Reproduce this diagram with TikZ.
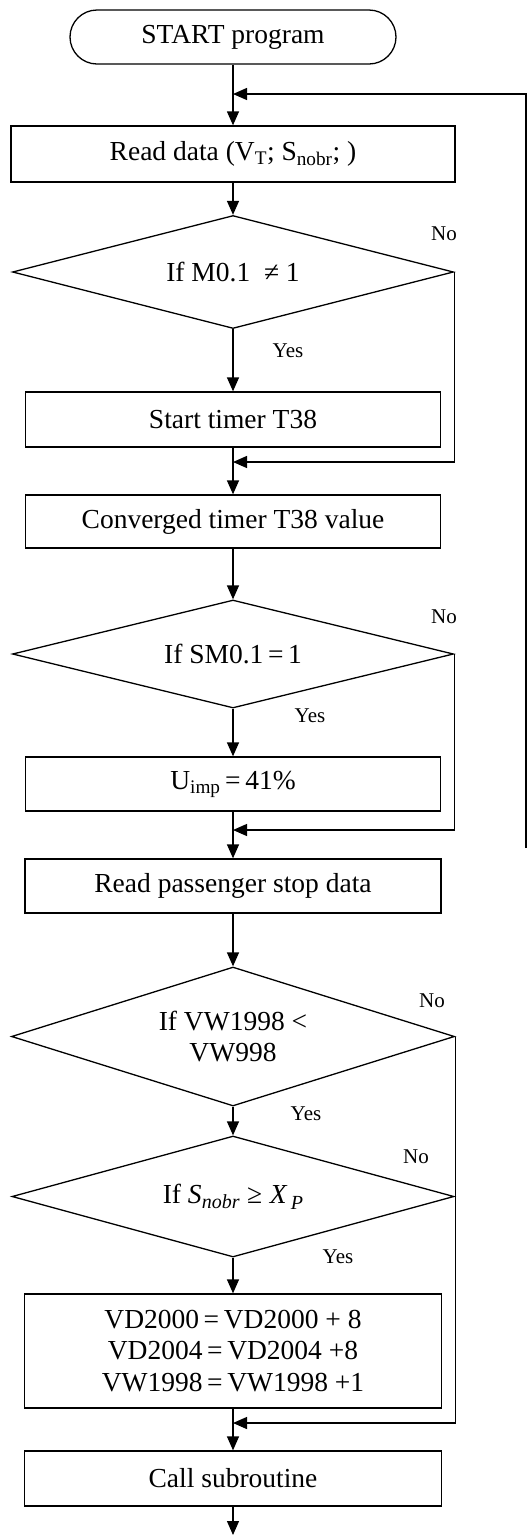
\documentclass[tikz,border=0pt]{standalone}
\usepackage{fontspec}
\setmainfont{Liberation Serif}
\usetikzlibrary{arrows.meta,shapes.geometric}

\begin{document}
\begin{tikzpicture}[x=1pt,y=-1pt,line width=1.3pt,
  every node/.style={font=\fontsize{27.5}{31.5}\selectfont},
  procbox/.style={draw,rectangle,inner sep=0pt,align=center},
  termbox/.style={draw,rectangle,rounded corners=27pt,inner sep=0pt},
  decbox/.style={draw,diamond,inner sep=0pt,align=center},
  lbl/.style={font=\fontsize{21}{24}\selectfont,inner sep=0pt},
  arr/.style={-{Triangle[length=14pt,width=12pt]}}]

\useasboundingbox (0,0) rectangle (531,1535);

% process steps
\node[termbox,minimum width=326pt,minimum height=54pt] (term) at (233,37) {START program};
\node[procbox,minimum width=444pt,minimum height=56pt] (read) at (233,154)
  {Read data (V\textsubscript{T}; S\textsubscript{nobr}; )};
\node[decbox,aspect=3.9,minimum width=441pt,minimum height=113pt] (d1) at (233,272)
  {If M0.1\enspace≠ 1};
\node[procbox,minimum width=415pt,minimum height=55pt] (start) at (233,419.5) {Start timer T38};
\node[procbox,minimum width=415pt,minimum height=53pt] (conv) at (233,521.5) {Converged timer T38 value};
\node[decbox,aspect=4.1,minimum width=441pt,minimum height=108pt] (d2) at (233,654)
  {If SM0.1\,=\,1};
\node[procbox,minimum width=415pt,minimum height=54pt] (uimp) at (233,784)
  {U\textsubscript{imp}\,=\,41\%};
\node[procbox,minimum width=416pt,minimum height=54pt] (rp) at (233,886) {Read passenger stop data};
\node[decbox,aspect=3.2,minimum width=443pt,minimum height=139pt] (d3) at (233,1036.5)
  {If VW1998 <\\VW998};
\node[decbox,aspect=3.65,minimum width=442pt,minimum height=121pt] (d4) at (233,1196.5)
  {If \textit{S}\raisebox{-0.45ex}{\fontsize{20}{20}\selectfont\textit{nobr}}\;≥\;\textit{X}\raisebox{-0.5ex}{\fontsize{20}{20}\selectfont\,\textit{P}}};
\node[procbox,minimum width=417pt,minimum height=114pt] (big) at (233,1351)
  {VD2000\,=\,VD2000 + 8\\VD2004\,=\,VD2004 +8\\VW1998\,=\,VW1998 +1};
\node[procbox,minimum width=417pt,minimum height=55pt] (call) at (233,1478.5) {Call subroutine};

% junction points on the main column
\coordinate (loopin) at (233,94);
\coordinate (loopend) at (526,848);
\coordinate (m1) at (233,462);
\coordinate (m2) at (233,830);
\coordinate (m3) at (233,1423);
\coordinate (fin) at (233,1535);

% main flow
\draw[arr] (term) -- (read);
\draw[arr] (read) -- (d1);
\draw[arr] (d1) -- (start);
\draw[arr] (start) -- (conv);
\draw[arr] (conv) -- (d2);
\draw[arr] (d2) -- (uimp);
\draw[arr] (uimp) -- (rp);
\draw[arr] (rp) -- (d3);
\draw[arr] (d3) -- (d4);
\draw[arr] (d4) -- (big);
\draw[arr] (big) -- (call);
\draw[arr] (call) -- (fin);

% "No" branches rejoining the column
\draw[arr] (d1.east) |- (m1);
\draw[arr] (d2.east) |- (m2);
\draw[arr] (d3.east) |- (m3);

% return line to the top
\draw[arr] (loopend) |- (loopin);

% branch labels
\node[lbl] (no1) at (444,234) {No};
\node[lbl] (yes1) at (288,351) {Yes};
\node[lbl] (no2) at (444,617) {No};
\node[lbl] (yes2) at (310,716) {Yes};
\node[lbl] (no3) at (432,1001) {No};
\node[lbl] (yes3) at (306,1114) {Yes};
\node[lbl] (no4) at (416,1157) {No};
\node[lbl] (yes4) at (338,1257) {Yes};
\end{tikzpicture}
\end{document}
